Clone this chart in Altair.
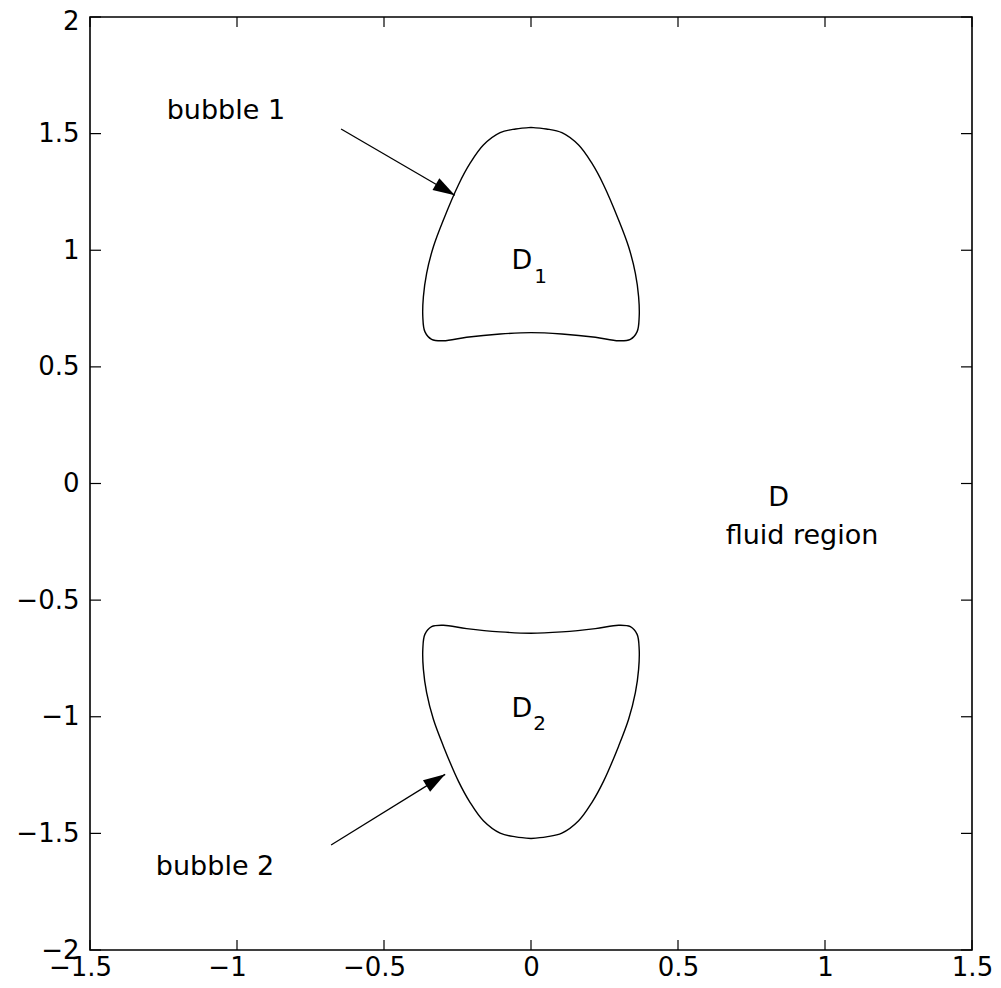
import math
import altair as alt
import pandas as pd

# ---------------- data ----------------
x_ticks = [-1.5, -1, -0.5, 0, 0.5, 1, 1.5]
y_ticks = [-2, -1.5, -1, -0.5, 0, 0.5, 1, 1.5, 2]

bubble1_x = [0, 0.052, 0.105, 0.162, 0.207, 0.247, 0.298, 0.332, 0.355, 0.366, 0.368, 0.361,
             0.338, 0.298, 0.219, 0.105, 0,
             -0.105, -0.219, -0.298, -0.338, -0.361, -0.368, -0.366, -0.355, -0.332, -0.298,
             -0.247, -0.207, -0.162, -0.105, -0.052, 0]
bubble1_y = [1.527, 1.520, 1.504, 1.451, 1.373, 1.280, 1.130, 1.015, 0.901, 0.801, 0.715, 0.651,
             0.618, 0.612, 0.627, 0.641, 0.647,
             0.641, 0.627, 0.612, 0.618, 0.651, 0.715, 0.801, 0.901, 1.015, 1.130,
             1.280, 1.373, 1.451, 1.504, 1.520, 1.527]

bubble2_x = [0, 0.052, 0.105, 0.162, 0.207, 0.247, 0.298, 0.332, 0.355, 0.366, 0.368, 0.361,
             0.338, 0.298, 0.219, 0.105, 0,
             -0.105, -0.219, -0.298, -0.338, -0.361, -0.368, -0.366, -0.355, -0.332, -0.298,
             -0.247, -0.207, -0.162, -0.105, -0.052, 0]
bubble2_y = [-1.522, -1.515, -1.499, -1.446, -1.368, -1.276, -1.126, -1.011, -0.897, -0.797, -0.711, -0.647,
             -0.614, -0.608, -0.622, -0.636, -0.642,
             -0.636, -0.622, -0.608, -0.614, -0.647, -0.711, -0.797, -0.897, -1.011, -1.126,
             -1.276, -1.368, -1.446, -1.499, -1.515, -1.522]

arrow_x1 = [-0.646, -0.680]
arrow_y1 = [1.520, -1.550]
arrow_x2 = [-0.259, -0.292]
arrow_y2 = [1.236, -1.247]

label_text = ["bubble 1", "bubble 2", "D", "fluid region", "D", "D"]
label_x = [-1.239, -1.276, 0.807, 0.662, -0.066, -0.066]
label_y = [1.561, -1.678, -0.097, -0.259, 0.918, -1.000]

sub_text = ["1", "2"]
sub_x = [0.011, 0.008]
sub_y = [0.860, -1.055]

# ---------------- chart ----------------
W, H = 882, 933
XD, YD = [-1.5, 1.5], [-2, 2]
xs = alt.Scale(domain=XD, nice=False, zero=False)
ys = alt.Scale(domain=YD, nice=False, zero=False)

rows = []
for b, (bx, by) in enumerate([(bubble1_x, bubble1_y), (bubble2_x, bubble2_y)]):
    for i, (xv, yv) in enumerate(zip(bx, by)):
        rows.append({"b": b, "i": i, "x": xv, "y": yv})
bub = pd.DataFrame(rows)

arr = pd.DataFrame({"x1": arrow_x1, "y1": arrow_y1, "x2": arrow_x2, "y2": arrow_y2})
arr["angle"] = [
    math.degrees(math.atan2(-(r.y2 - r.y1) * H / 4, (r.x2 - r.x1) * W / 3)) % 360
    for r in arr.itertuples()
]

labels = pd.DataFrame({"t": label_text, "x": label_x, "y": label_y})
subs = pd.DataFrame({"t": sub_text, "x": sub_x, "y": sub_y})
xt = pd.DataFrame({"v": x_ticks})
yt = pd.DataFrame({"v": y_ticks})

xaxis = alt.Axis(values=x_ticks, format="~g", title=None, labelPadding=4,
                 labelOffset=alt.ExprRef("datum.value < 0 ? -10 : 0"))
yaxis = alt.Axis(values=y_ticks, format="~g", title=None, labelPadding=11,
                 labelOffset=alt.ExprRef("datum.value == 2 ? 4 : 0"))


def X(f, **kw):
    return alt.X(f, scale=xs, title=None, **kw)


def Y(f, **kw):
    return alt.Y(f, scale=ys, title=None, **kw)


bubbles = alt.Chart(bub).mark_line(color="black", strokeWidth=1.4, interpolate="catmull-rom").encode(
    x=X("x:Q", axis=xaxis),
    y=Y("y:Q", axis=yaxis),
    detail="b:N",
    order="i:Q",
)

arrow_lines = alt.Chart(arr).mark_rule(color="black", strokeWidth=1.3).encode(
    x=X("x1:Q"), y=Y("y1:Q"), x2="x2:Q", y2="y2:Q",
)

arrow_heads = alt.Chart(arr).mark_point(
    shape="M0,0L-2,-0.62L-2,0.62Z", filled=True, color="black", opacity=1, size=480
).encode(
    x=X("x2:Q"), y=Y("y2:Q"),
    angle=alt.Angle("angle:Q", scale=None),
)

texts = alt.Chart(labels).mark_text(
    font="DejaVu Sans", fontSize=27, align="left", baseline="alphabetic", color="black"
).encode(x=X("x:Q"), y=Y("y:Q"), text="t:N")

subtexts = alt.Chart(subs).mark_text(
    font="DejaVu Sans", fontSize=20, align="left", baseline="alphabetic", color="black"
).encode(x=X("x:Q"), y=Y("y:Q"), text="t:N")

tk = dict(color="black", strokeWidth=1.2)
xt_bot = alt.Chart(xt).mark_rule(**tk).encode(x=X("v:Q"), y=alt.value(H), y2=alt.value(H - 10))
xt_top = alt.Chart(xt).mark_rule(**tk).encode(x=X("v:Q"), y=alt.value(0), y2=alt.value(10))
yt_left = alt.Chart(yt).mark_rule(**tk).encode(y=Y("v:Q"), x=alt.value(0), x2=alt.value(11))
yt_right = alt.Chart(yt).mark_rule(**tk).encode(y=Y("v:Q"), x=alt.value(W), x2=alt.value(W - 11))

chart = alt.layer(
    bubbles, xt_bot, xt_top, yt_left, yt_right, arrow_lines, arrow_heads, texts, subtexts
).properties(
    width=W, height=H,
    autosize=alt.AutoSizeParams(type="none"),
    padding={"left": 82, "top": 9, "right": 21, "bottom": 30},
    background="white",
).configure_view(
    stroke="black", strokeWidth=1.6
).configure_axis(
    domain=False, ticks=False, grid=False,
    labelFont="DejaVu Sans", labelFontSize=26, labelColor="black",
    labelFlush=False, labelOverlap=False,
)

chart.save("out.html", embed_options={"renderer": "svg", "actions": False})
